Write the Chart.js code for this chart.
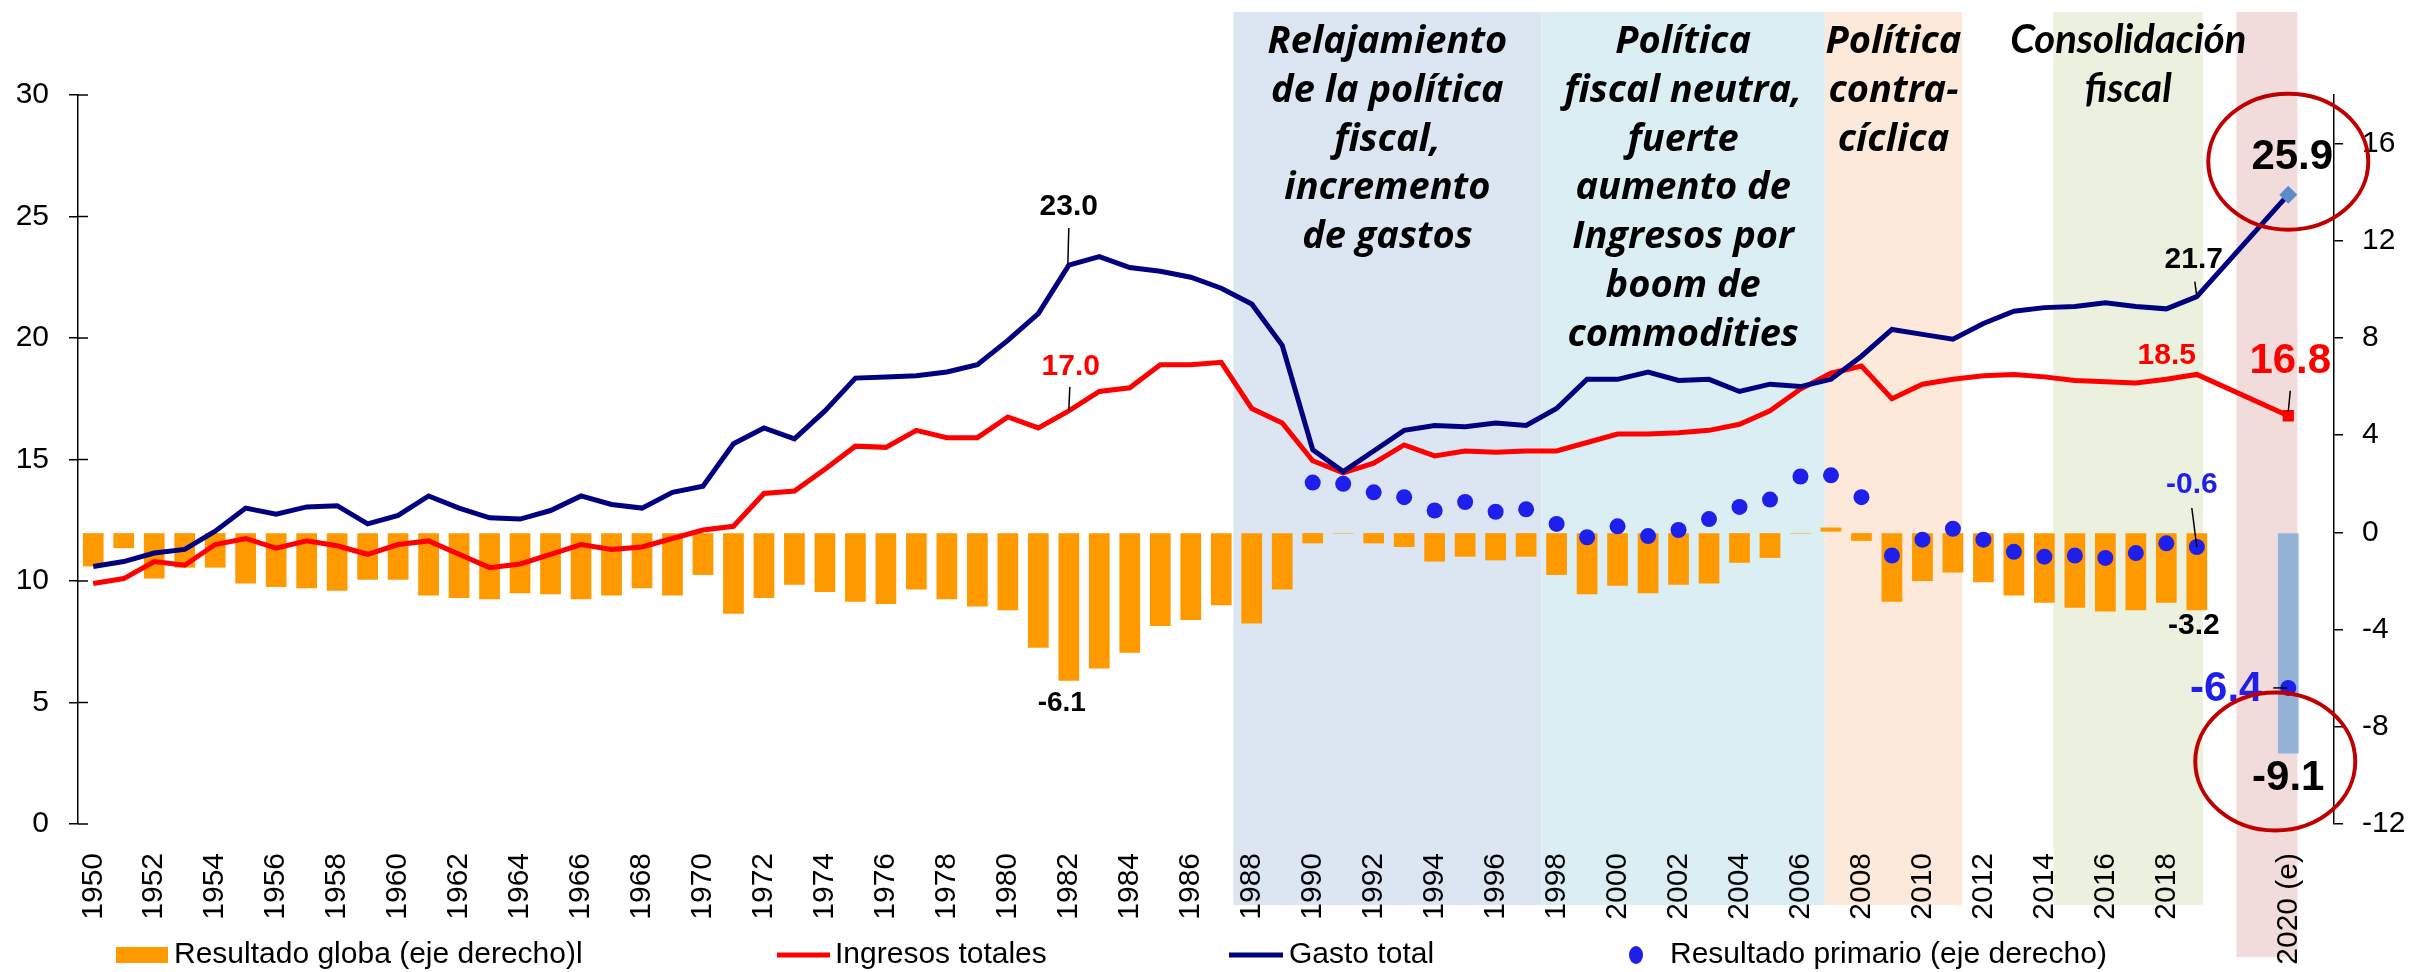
<!DOCTYPE html>
<html>
<head>
<meta charset="utf-8">
<script src="https://cdn.jsdelivr.net/npm/chart.js@4.4.0/dist/chart.umd.min.js"></script>
<style>
  html, body { margin: 0; padding: 0; background: #fff; }
  #wrap { width: 2409px; height: 972px; }
</style>
</head>
<body>
<div id="wrap"><canvas id="fiscalChart" width="2409" height="972"></canvas></div>
<script>
// categories
const years = [
  "1950","1951","1952","1953","1954","1955","1956","1957","1958","1959",
  "1960","1961","1962","1963","1964","1965","1966","1967","1968","1969",
  "1970","1971","1972","1973","1974","1975","1976","1977","1978","1979",
  "1980","1981","1982","1983","1984","1985","1986","1987","1988","1989",
  "1990","1991","1992","1993","1994","1995","1996","1997","1998","1999",
  "2000","2001","2002","2003","2004","2005","2006","2007","2008","2009",
  "2010","2011","2012","2013","2014","2015","2016","2017","2018","2019"
];
const estimateLabel = "2020 (e)";

// % del PIB, 1950-2019 (eje izquierdo)
const gastoTotal = [
  10.6, 10.8, 11.15, 11.3, 12.05, 13.0, 12.75, 13.05, 13.1, 12.35,
  12.7, 13.5, 13.0, 12.6, 12.55, 12.9, 13.5, 13.15, 13.0, 13.65,
  13.9, 15.65, 16.3, 15.85, 17.0, 18.35, 18.4, 18.45, 18.6, 18.9,
  19.9, 21.0, 23.0, 23.35, 22.9, 22.75, 22.5, 22.05, 21.4, 19.7,
  15.4, 14.5, 15.35, 16.2, 16.4, 16.35, 16.5, 16.4, 17.1, 18.3,
  18.3, 18.6, 18.25, 18.3, 17.8, 18.1, 18.0, 18.3, 19.25, 20.35,
  20.15, 19.95, 20.6, 21.1, 21.25, 21.3, 21.45, 21.3, 21.2, 21.7
];
const ingresosTotales = [
  9.9, 10.1, 10.8, 10.65, 11.5, 11.75, 11.35, 11.65, 11.45, 11.1,
  11.5, 11.65, 11.1, 10.55, 10.7, 11.1, 11.5, 11.3, 11.4, 11.75,
  12.1, 12.25, 13.6, 13.7, 14.6, 15.55, 15.5, 16.2, 15.9, 15.9,
  16.75, 16.3, 17.0, 17.8, 17.95, 18.9, 18.9, 19.0, 17.1, 16.5,
  14.95, 14.45, 14.85, 15.6, 15.15, 15.35, 15.3, 15.35, 15.35, 15.7,
  16.05, 16.05, 16.1, 16.2, 16.45, 17.0, 17.9, 18.55, 18.85, 17.5,
  18.1, 18.3, 18.45, 18.5, 18.4, 18.25, 18.2, 18.15, 18.3, 18.5
];
// eje derecho
const resultadoGlobal = [
  -1.4, -0.65, -1.9, -1.45, -1.45, -2.1, -2.25, -2.3, -2.4, -1.95,
  -1.95, -2.6, -2.7, -2.75, -2.5, -2.55, -2.75, -2.6, -2.3, -2.6,
  -1.75, -3.35, -2.7, -2.15, -2.45, -2.85, -2.95, -2.35, -2.75, -3.05,
  -3.2, -4.75, -6.1, -5.6, -4.95, -3.85, -3.6, -3.0, -3.75, -2.35,
  -0.45, -0.05, -0.45, -0.6, -1.2, -1.0, -1.15, -1.0, -1.75, -2.55,
  -2.2, -2.5, -2.15, -2.1, -1.25, -1.05, -0.05, 0.2, -0.35, -2.85,
  -2.0, -1.65, -2.05, -2.6, -2.9, -3.1, -3.25, -3.2, -2.9, -3.2
];
const primarioFirstYear = "1990";
const resultadoPrimario = [
  2.05, 2.0, 1.65, 1.45, 0.9, 1.25, 0.85, 0.95, 0.35, -0.2,
  0.25, -0.15, 0.1, 0.55, 1.05, 1.35, 2.3, 2.35, 1.45, -0.95,
  -0.3, 0.15, -0.3, -0.8, -1.0, -0.95, -1.05, -0.85, -0.45, -0.6
];

// 2020 estimado
const gasto2020 = 25.9;
const ingresos2020 = 16.8;
const global2020 = -9.1;
const primario2020 = -6.4;

const leftTicks = [0, 5, 10, 15, 20, 25, 30];
const rightTicks = [-12, -8, -4, 0, 4, 8, 12, 16];

// periodos (en posiciones de categoria)
const periodText = [
  ["Relajamiento", "de la política", "fiscal,", "incremento", "de gastos"],
  ["Política", "fiscal neutra,", "fuerte", "aumento de", "Ingresos por", "boom de", "commodities"],
  ["Política", "contra-", "cíclica"],
  ["Consolidación", "fiscal"],
  []
];
const periodFrom = [37.4, 47.5, 56.8, 64.3, 70.3];
const periodTo = [47.5, 56.8, 61.3, 69.2, 72.3];
const periodColors = ["#DCE6F2", "#DAEEF3", "#FDE9D9", "#EBF1DE", "#F2DCDB"];
const periodFonts = [
  'italic bold 38px "Open Sans", Lato, sans-serif',
  'italic bold 38px "Open Sans", Lato, sans-serif',
  'italic bold 38px "Open Sans", Lato, sans-serif',
  'italic bold 40px Lato, "Open Sans", sans-serif',
  'italic bold 38px "Open Sans", Lato, sans-serif'
];

// build the category table: two empty slots before the estimate, one after
const labels = [...years, "", "", estimateLabel, ""];
const estIdx = labels.indexOf(estimateLabel);
const withEstimate = (arr, est) => {
  const out = labels.map(() => null);
  arr.forEach((v, i) => { out[i] = v; });
  out[estIdx] = est;
  return out;
};
const primarioFull = labels.map(() => null);
const pStart = years.indexOf(primarioFirstYear);
resultadoPrimario.forEach((v, i) => { primarioFull[pStart + i] = v; });
primarioFull[estIdx] = primario2020;

const FONT = '"Liberation Sans", Arial, sans-serif';
const NAVY = "#000080";
const RED = "#FF0000";
const ORANGE = "#FF9900";
const DOT = "#1F1FEB";

const periodsPlugin = {
  id: "periods",
  beforeDraw(chart) {
    const { ctx, scales: { x } } = chart;
    ctx.save();
    // shaded bands first, then their captions on top
    periodFrom.forEach((from, k) => {
      const x0 = x.getPixelForValue(from);
      const x1 = x.getPixelForValue(periodTo[k]);
      const bottom = k === periodFrom.length - 1 ? 957 : 905;
      ctx.fillStyle = periodColors[k];
      ctx.fillRect(x0, 12, x1 - x0, bottom - 12);
    });
    ctx.fillStyle = "#000";
    ctx.textAlign = "center";
    ctx.textBaseline = "alphabetic";
    periodFrom.forEach((from, k) => {
      const cx = (x.getPixelForValue(from) + x.getPixelForValue(periodTo[k])) / 2;
      ctx.font = periodFonts[k];
      periodText[k].forEach((line, j) => {
        ctx.fillText(line, cx, 53 + j * 48.8);
      });
    });
    ctx.restore();
  }
};

const calloutPlugin = {
  id: "callouts",
  afterDatasetsDraw(chart) {
    const { ctx, scales: { x, y, yR } } = chart;
    const label = (txt, cx, cy, color, size) => {
      ctx.font = "bold " + size + "px " + FONT;
      ctx.fillStyle = color;
      ctx.textAlign = "center";
      ctx.textBaseline = "middle";
      ctx.fillText(txt, cx, cy);
    };
    const leader = (x1, y1, x2, y2) => {
      ctx.strokeStyle = "#000";
      ctx.lineWidth = 1.5;
      ctx.beginPath();
      ctx.moveTo(x1, y1);
      ctx.lineTo(x2, y2);
      ctx.stroke();
    };
    const fmt = v => v.toFixed(1);
    ctx.save();

    const i82 = years.indexOf("1982");
    const i19 = years.indexOf("2019");
    const x82 = x.getPixelForValue(i82);
    const x19 = x.getPixelForValue(i19);
    const xE = x.getPixelForValue(estIdx);

    const g82 = y.getPixelForValue(gastoTotal[i82]);
    label(fmt(gastoTotal[i82]), x82, g82 - 58, "#000", 30);
    leader(x82, g82 - 37, x82 - 1, g82);
    const r82 = y.getPixelForValue(ingresosTotales[i82]);
    label(fmt(ingresosTotales[i82]), x82 + 2, r82 - 44, RED, 30);
    leader(x82 + 1, r82 - 24, x82, r82);
    const b82 = yR.getPixelForValue(resultadoGlobal[i82]);
    label(fmt(resultadoGlobal[i82]), x82 - 7, b82 + 23, "#000", 28);

    const g19 = y.getPixelForValue(gastoTotal[i19]);
    label(fmt(gastoTotal[i19]), x19 - 3, g19 - 37, "#000", 30);
    leader(x19 - 2, g19 - 15, x19, g19);
    const r19 = y.getPixelForValue(ingresosTotales[i19]);
    label(fmt(ingresosTotales[i19]), x19 - 30, r19 - 19, RED, 30);
    const p19 = yR.getPixelForValue(primarioFull[i19]);
    label(fmt(primarioFull[i19]), x19 - 5, p19 - 62, DOT, 30);
    leader(x19 - 5, p19 - 39, x19, p19);
    const b19 = yR.getPixelForValue(resultadoGlobal[i19]);
    label(fmt(resultadoGlobal[i19]), x19 - 3, b19 + 16, "#000", 30);

    const gE = y.getPixelForValue(gasto2020);
    label(fmt(gasto2020), xE + 4, gE - 37, "#000", 42);
    const rE = y.getPixelForValue(ingresos2020);
    label(fmt(ingresos2020), xE + 2, rE - 54, RED, 42);
    leader(xE + 2, rE - 25, xE, rE - 4);
    const pE = yR.getPixelForValue(primario2020);
    label(fmt(primario2020), xE - 62, pE + 2, DOT, 42);
    leader(xE - 15, pE, xE - 1, pE);
    const bE = yR.getPixelForValue(global2020);
    label(fmt(global2020), xE, bE + 25, "#000", 42);

    ctx.strokeStyle = "#C00000";
    ctx.lineWidth = 4;
    ctx.beginPath();
    ctx.ellipse(xE, gE - 33, 80, 68, 0, 0, Math.PI * 2);
    ctx.stroke();
    ctx.beginPath();
    ctx.ellipse(xE - 13, bE + 8, 80, 69, 0, 0, Math.PI * 2);
    ctx.stroke();
    ctx.restore();
  }
};

const legendPlugin = {
  id: "customLegend",
  afterDraw(chart) {
    const { ctx } = chart;
    const ds = chart.data.datasets;
    const yMid = 955;
    ctx.save();
    ctx.font = "30px " + FONT;
    ctx.fillStyle = "#000";
    ctx.textAlign = "left";
    ctx.textBaseline = "middle";

    ctx.fillStyle = ORANGE;
    ctx.fillRect(116, 947, 52, 16);
    ctx.fillStyle = "#000";
    ctx.fillText(ds[3].label, 174, yMid);

    ctx.lineWidth = 5;
    ctx.strokeStyle = RED;
    ctx.beginPath(); ctx.moveTo(777, yMid); ctx.lineTo(830, yMid); ctx.stroke();
    ctx.fillText(ds[1].label, 835, yMid);

    ctx.strokeStyle = NAVY;
    ctx.beginPath(); ctx.moveTo(1229, yMid); ctx.lineTo(1283, yMid); ctx.stroke();
    ctx.fillText(ds[0].label, 1289, yMid);

    ctx.fillStyle = DOT;
    ctx.beginPath(); ctx.ellipse(1636, yMid, 7, 9, 0, 0, Math.PI * 2); ctx.fill();
    ctx.fillStyle = "#000";
    ctx.fillText(ds[2].label, 1670, yMid);

    // cross ticks on the left axis (inner half)
    const yl = chart.scales.y;
    ctx.strokeStyle = "#000";
    ctx.lineWidth = 1.5;
    leftTicks.forEach(v => {
      const py = yl.getPixelForValue(v);
      ctx.beginPath(); ctx.moveTo(yl.right, py); ctx.lineTo(yl.right + 10, py); ctx.stroke();
    });
    ctx.restore();
  }
};

new Chart(document.getElementById("fiscalChart"), {
  data: {
    labels: labels,
    datasets: [
      {
        type: "line",
        label: "Gasto total",
        data: withEstimate(gastoTotal, gasto2020),
        borderColor: NAVY,
        borderWidth: 5,
        tension: 0,
        spanGaps: true,
        pointRadius: ctx => (ctx.dataIndex === estIdx ? 9 : 0),
        pointStyle: "rectRot",
        pointBackgroundColor: "#5B8BC9",
        pointBorderWidth: 0,
        yAxisID: "y",
        order: 2
      },
      {
        type: "line",
        label: "Ingresos totales",
        data: withEstimate(ingresosTotales, ingresos2020),
        borderColor: RED,
        borderWidth: 5,
        tension: 0,
        spanGaps: true,
        pointRadius: ctx => (ctx.dataIndex === estIdx ? 8 : 0),
        pointStyle: "rect",
        pointBackgroundColor: RED,
        pointBorderWidth: 0,
        yAxisID: "y",
        order: 3
      },
      {
        type: "line",
        label: "Resultado primario (eje derecho)",
        data: primarioFull,
        showLine: false,
        pointRadius: 8,
        pointBackgroundColor: DOT,
        pointBorderWidth: 0,
        yAxisID: "yR",
        order: 1
      },
      {
        type: "bar",
        label: "Resultado globa (eje derecho)l",
        data: withEstimate(resultadoGlobal, global2020),
        backgroundColor: ctx => (ctx.dataIndex === estIdx ? "#95B3D7" : ORANGE),
        barPercentage: 0.68,
        categoryPercentage: 1.0,
        yAxisID: "yR",
        order: 4
      }
    ]
  },
  options: {
    responsive: false,
    animation: false,
    events: [],
    layout: { padding: { top: 95, left: 0, right: 0, bottom: 0 } },
    plugins: {
      legend: { display: false },
      tooltip: { enabled: false }
    },
    scales: {
      x: {
        type: "category",
        offset: true,
        grid: { display: false },
        border: { display: false },
        ticks: {
          autoSkip: false,
          maxRotation: 90,
          minRotation: 90,
          padding: 21,
          color: "#000",
          font: { family: FONT, size: 30 },
          callback: function (val, idx) {
            return idx % 2 === 0 ? this.getLabelForValue(val) : "";
          }
        },
        afterFit: s => { s.height = 148; }
      },
      y: {
        position: "left",
        min: 0,
        max: 30,
        afterBuildTicks: s => { s.ticks = leftTicks.map(v => ({ value: v })); },
        grid: { drawOnChartArea: false, tickLength: 9, color: "#000", lineWidth: 1.5 },
        border: { display: true, color: "#000", width: 1.5 },
        ticks: { padding: 20, color: "#000", font: { family: FONT, size: 30 } },
        afterFit: s => { s.width = 78; }
      },
      yR: {
        position: "right",
        min: -12,
        max: 18,
        afterBuildTicks: s => { s.ticks = rightTicks.map(v => ({ value: v })); },
        grid: { drawOnChartArea: false, tickLength: 9, color: "#000", lineWidth: 1.5 },
        border: { display: true, color: "#000", width: 1.5 },
        ticks: { padding: 19, color: "#000", font: { family: FONT, size: 30 } },
        afterFit: s => { s.width = 75; }
      }
    }
  },
  plugins: [periodsPlugin, calloutPlugin, legendPlugin]
});
</script>
</body>
</html>
